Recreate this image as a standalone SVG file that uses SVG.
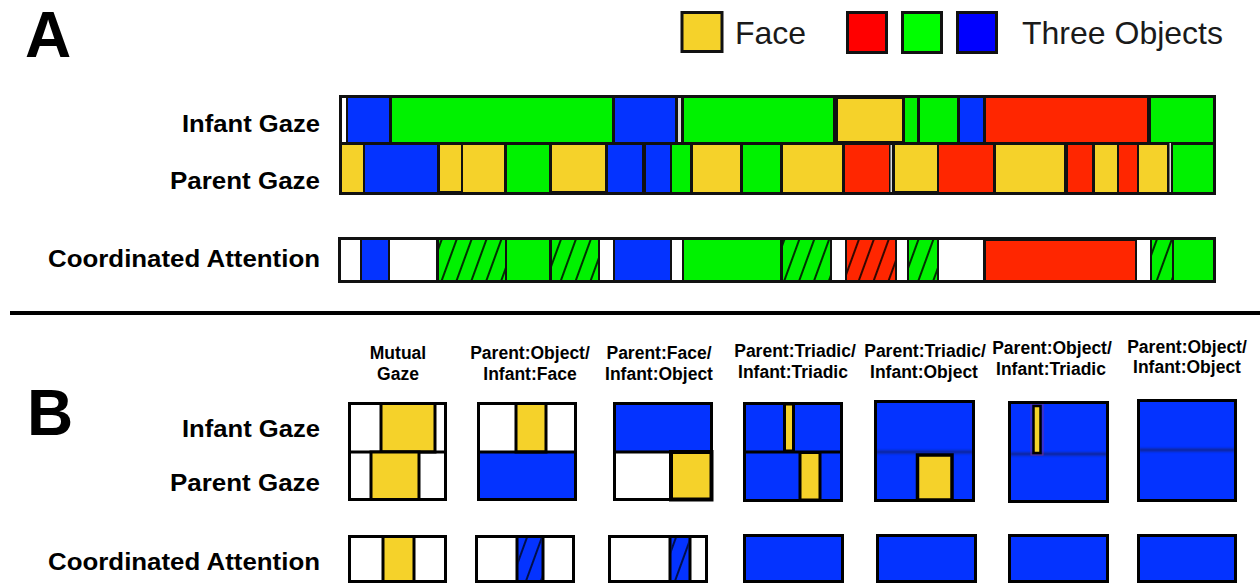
<svg xmlns="http://www.w3.org/2000/svg" width="1260" height="585" viewBox="0 0 1260 585">
<style>
.y{fill:#F5D22A}.g{fill:#00F200}.b{fill:#0433FF}.r{fill:#FF2600}.w{fill:#FFFFFF}.gr{fill:#DDDDDD}
.lbl{font-family:"Liberation Sans",Arial,sans-serif;font-weight:bold;font-size:23px;fill:#000;text-anchor:end}
.ttl{font-family:"Liberation Sans",Arial,sans-serif;font-weight:bold;font-size:17.5px;fill:#000;text-anchor:middle}
.big{font-family:"Liberation Sans",Arial,sans-serif;font-weight:bold;font-size:64px;fill:#000}
.leg{font-family:"Liberation Sans",Arial,sans-serif;font-size:32px;fill:#1a1a1a}
.bx{stroke:#000;stroke-width:3}
.ol{fill:none;stroke:#000;stroke-width:3}
.blur{fill:#14237a;opacity:.8}
</style>
<defs>
<pattern id="hatch" patternUnits="userSpaceOnUse" width="14" height="14" patternTransform="rotate(20)">
<line x1="7" y1="0" x2="7" y2="14" stroke="#000" stroke-width="1.6"/>
</pattern>
<pattern id="hatchB" patternUnits="userSpaceOnUse" width="14" height="14" patternTransform="rotate(20)">
<line x1="7" y1="0" x2="7" y2="14" stroke="#000" stroke-width="1.4"/>
</pattern>
<filter id="soft" filterUnits="userSpaceOnUse" x="0" y="380" width="1260" height="140"><feGaussianBlur stdDeviation="1"/></filter>
</defs>

<g id="panel-letters">
<text class="big" x="25" y="57">A</text>
<text class="big" x="27" y="435">B</text>
</g>

<g id="legend">
<rect class="y" x="682" y="12.5" width="40" height="39" stroke="#111" stroke-width="3"/>
<text class="leg" x="735" y="44">Face</text>
<rect x="847.5" y="12.5" width="39" height="40" fill="#FF0000" stroke="#111" stroke-width="3"/>
<rect x="902.5" y="12.5" width="39" height="40" fill="#00FF00" stroke="#111" stroke-width="3"/>
<rect x="957.5" y="12.5" width="39" height="40" fill="#0000FF" stroke="#111" stroke-width="3"/>
<text class="leg" x="1022" y="44">Three Objects</text>
</g>

<g id="labels-A">
<text class="lbl" x="320" y="132" textLength="138" lengthAdjust="spacingAndGlyphs">Infant Gaze</text>
<text class="lbl" x="320" y="189" textLength="150" lengthAdjust="spacingAndGlyphs">Parent Gaze</text>
<text class="lbl" x="320" y="267" textLength="272" lengthAdjust="spacingAndGlyphs">Coordinated Attention</text>
</g>

<g id="infant-gaze-bar">
<rect x="339" y="95" width="877" height="100" fill="#111"/>
<rect class="w" x="342" y="98" width="4" height="44"/>
<rect class="b" x="348" y="98" width="41" height="44"/>
<rect class="g" x="392" y="98" width="220" height="44"/>
<rect class="b" x="615" y="98" width="60" height="44"/>
<rect class="gr" x="678" y="98" width="3" height="44"/>
<rect class="g" x="684" y="98" width="149" height="44"/>
<rect class="y" x="838" y="99" width="64" height="42"/>
<rect class="g" x="905" y="98" width="12" height="44"/>
<rect class="g" x="920" y="98" width="37" height="44"/>
<rect class="b" x="960" y="98" width="23" height="44"/>
<rect class="r" x="986" y="98" width="161" height="44"/>
<rect class="g" x="1151" y="98" width="62" height="44"/>
</g>

<g id="parent-gaze-bar">
<rect class="y" x="342" y="145" width="21" height="47"/>
<rect class="b" x="365" y="145" width="72" height="47"/>
<rect class="y" x="440" y="145" width="21" height="46"/>
<rect class="y" x="463" y="145" width="41" height="47"/>
<rect class="g" x="507" y="145" width="42" height="47"/>
<rect class="y" x="552" y="145" width="53" height="46"/>
<rect class="b" x="608" y="145" width="34" height="47"/>
<rect class="b" x="646" y="145" width="24" height="47"/>
<rect class="g" x="672" y="145" width="18" height="47"/>
<rect class="y" x="693" y="145" width="47" height="47"/>
<rect class="g" x="743" y="145" width="37" height="47"/>
<rect class="y" x="783" y="145" width="59" height="47"/>
<rect class="r" x="845" y="145" width="44" height="47"/>
<rect class="gr" x="890.5" y="145" width="1.5" height="47"/>
<rect class="y" x="895" y="145" width="42" height="46"/>
<rect class="r" x="939" y="145" width="54" height="47"/>
<rect class="y" x="996" y="145" width="68" height="47"/>
<rect class="r" x="1068" y="145" width="24" height="47"/>
<rect class="y" x="1095" y="145" width="22" height="47"/>
<rect class="r" x="1119" y="145" width="18" height="47"/>
<rect class="y" x="1139" y="145" width="28" height="47"/>
<rect class="gr" x="1169.5" y="143" width="1.5" height="49"/>
<rect class="g" x="1173" y="145" width="40" height="47"/>
</g>

<g id="coordinated-bar">
<rect x="338" y="237" width="878" height="46" fill="#111"/>
<rect class="w" x="341" y="240" width="19" height="40"/>
<rect class="b" x="362" y="240" width="26" height="40"/>
<rect class="w" x="390" y="240" width="46" height="40"/>
<rect class="g" x="439" y="240" width="66" height="40"/>
<rect fill="url(#hatch)" x="439" y="240" width="66" height="40"/>
<rect class="g" x="507" y="240" width="42" height="40"/>
<rect class="g" x="552" y="240" width="46" height="40"/>
<rect fill="url(#hatch)" x="552" y="240" width="46" height="40"/>
<rect class="w" x="600" y="240" width="13" height="40"/>
<rect class="b" x="615" y="240" width="55" height="40"/>
<rect class="w" x="672" y="240" width="10" height="40"/>
<rect class="g" x="684" y="240" width="96" height="40"/>
<rect class="g" x="783" y="240" width="47" height="40"/>
<rect fill="url(#hatch)" x="783" y="240" width="47" height="40"/>
<rect class="w" x="832" y="240" width="13" height="40"/>
<rect class="r" x="847" y="240" width="48" height="40"/>
<rect fill="url(#hatch)" x="847" y="240" width="48" height="40"/>
<rect class="w" x="897" y="240" width="10" height="40"/>
<rect class="g" x="909" y="240" width="28" height="40"/>
<rect fill="url(#hatch)" x="909" y="240" width="28" height="40"/>
<rect class="w" x="939" y="240" width="44" height="40"/>
<rect class="r" x="986" y="241" width="149" height="39"/>
<rect class="w" x="1137" y="240" width="13" height="40"/>
<rect class="g" x="1152" y="240" width="20" height="40"/>
<rect fill="url(#hatch)" x="1152" y="240" width="20" height="40"/>
<rect class="g" x="1174" y="240" width="39" height="40"/>
</g>

<g id="separator">
<line x1="10" y1="313" x2="1260" y2="313" stroke="#000" stroke-width="4"/>
</g>

<g id="labels-B">
<text class="lbl" x="320" y="437" textLength="138" lengthAdjust="spacingAndGlyphs">Infant Gaze</text>
<text class="lbl" x="320" y="491" textLength="150" lengthAdjust="spacingAndGlyphs">Parent Gaze</text>
<text class="lbl" x="320" y="570" textLength="272" lengthAdjust="spacingAndGlyphs">Coordinated Attention</text>
</g>

<g id="col-mutual-gaze">
<text class="ttl" x="398" y="359">Mutual</text>
<text class="ttl" x="398" y="380">Gaze</text>
<rect class="w" x="349.5" y="403.5" width="96" height="96"/>
<rect class="y bx" x="381" y="403.5" width="54" height="48.5"/>
<line x1="348" y1="452" x2="447" y2="452" stroke="#000" stroke-width="3"/>
<rect class="y bx" x="371" y="452" width="48" height="47.5"/>
<rect class="ol" x="349.5" y="403.5" width="96" height="96"/>
<rect class="w bx" x="349.5" y="536.5" width="96" height="45"/>
<rect class="y bx" x="383" y="536.5" width="31" height="45"/>
</g>

<g id="col-parent-object-infant-face">
<text class="ttl" x="530" y="359">Parent:Object/</text>
<text class="ttl" x="530" y="380">Infant:Face</text>
<rect class="w" x="478.5" y="403.5" width="97" height="96"/>
<rect class="b" x="478.5" y="452" width="97" height="47.5"/>
<rect class="y bx" x="516" y="403.5" width="30" height="48.5"/>
<line x1="477" y1="452" x2="577" y2="452" stroke="#000" stroke-width="3"/>
<rect class="ol" x="478.5" y="403.5" width="97" height="96"/>
<rect class="w bx" x="476.5" y="536.5" width="97" height="45"/>
<rect class="b bx" x="517" y="536.5" width="26" height="45"/>
<rect fill="url(#hatchB)" x="518.5" y="538" width="23" height="42"/>
</g>

<g id="col-parent-face-infant-object">
<text class="ttl" x="659" y="359">Parent:Face/</text>
<text class="ttl" x="659" y="380">Infant:Object</text>
<rect class="w" x="614.5" y="403.5" width="97" height="96"/>
<rect class="b" x="614.5" y="403.5" width="97" height="48.5"/>
<line x1="613" y1="452" x2="713" y2="452" stroke="#000" stroke-width="3"/>
<rect class="y" x="671" y="452" width="40.5" height="47.5" stroke="#000" stroke-width="4"/>
<rect class="ol" x="614.5" y="403.5" width="97" height="96"/>
<rect class="w bx" x="609.5" y="536.5" width="97" height="45"/>
<rect class="b bx" x="670" y="536.5" width="20" height="45"/>
<rect fill="url(#hatchB)" x="671.5" y="538" width="17" height="42"/>
</g>

<g id="col-parent-triadic-infant-triadic">
<text class="ttl" x="795" y="357">Parent:Triadic/</text>
<text class="ttl" x="793" y="378">Infant:Triadic</text>
<rect class="b" x="744.5" y="403.5" width="97" height="97"/>
<rect class="y bx" x="784.5" y="404" width="9" height="47"/>
<line x1="743" y1="452" x2="843" y2="452" stroke="#000" stroke-width="3"/>
<rect class="y bx" x="800" y="452.5" width="20" height="47.5"/>
<rect class="ol" x="744.5" y="403.5" width="97" height="97"/>
<rect class="b bx" x="744.5" y="535.5" width="98" height="46"/>
</g>

<g id="col-parent-triadic-infant-object">
<text class="ttl" x="925" y="357">Parent:Triadic/</text>
<text class="ttl" x="924" y="378">Infant:Object</text>
<rect class="b" x="875.5" y="401.5" width="98" height="99"/>
<rect class="blur" x="876" y="450.5" width="97" height="3" filter="url(#soft)"/>
<rect class="y" x="917.5" y="455" width="34.5" height="45" stroke="#000" stroke-width="3.5"/>
<rect class="ol" x="875.5" y="401.5" width="98" height="99"/>
<rect class="b bx" x="877.5" y="535.5" width="98" height="46"/>
</g>

<g id="col-parent-object-infant-triadic">
<text class="ttl" x="1052" y="354">Parent:Object/</text>
<text class="ttl" x="1051" y="375">Infant:Triadic</text>
<rect class="b" x="1009.5" y="402.5" width="98" height="99"/>
<rect class="blur" x="1010" y="452.5" width="97" height="3" filter="url(#soft)"/>
<rect x="1031" y="404" width="12" height="51" fill="none" stroke="#b0306a" stroke-width="1" opacity=".6"/>
<rect class="y" x="1033.5" y="406" width="7" height="47" stroke="#000" stroke-width="2.5"/>
<rect class="ol" x="1009.5" y="402.5" width="98" height="99"/>
<rect class="b bx" x="1009.5" y="535.5" width="98" height="46"/>
</g>

<g id="col-parent-object-infant-object">
<text class="ttl" x="1187" y="353">Parent:Object/</text>
<text class="ttl" x="1187" y="373">Infant:Object</text>
<rect class="b" x="1138.5" y="400.5" width="97" height="100"/>
<rect class="blur" x="1139" y="448.5" width="96" height="3" filter="url(#soft)"/>
<rect class="ol" x="1138.5" y="400.5" width="97" height="100"/>
<rect class="b bx" x="1138.5" y="535.5" width="97" height="46"/>
</g>
</svg>
